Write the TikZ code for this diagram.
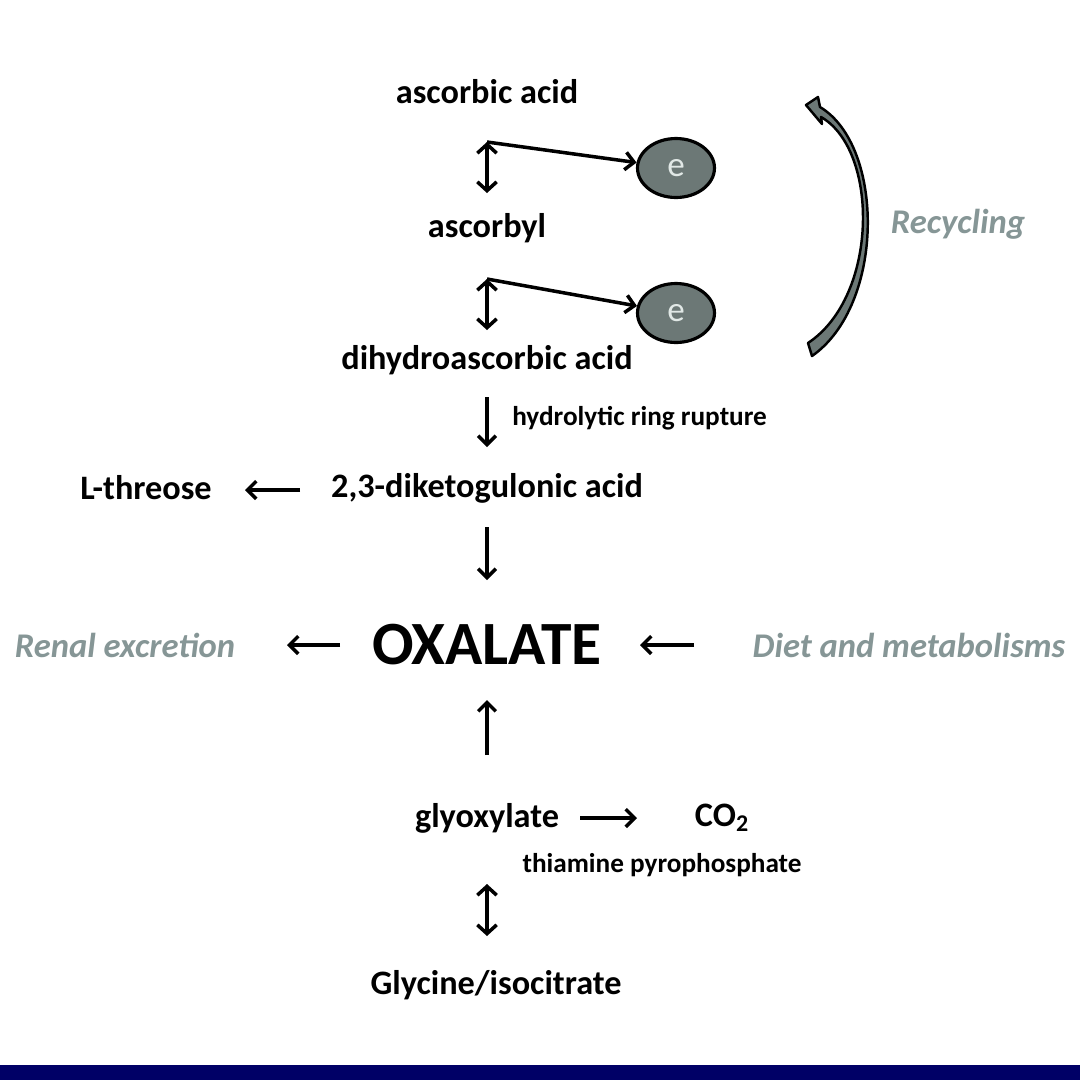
\documentclass[tikz,border=0pt]{standalone}
\usepackage{fontspec}
\setmainfont{Carlito}
\usetikzlibrary{arrows.meta,shapes.geometric}
\definecolor{navy}{RGB}{0,0,102}
\definecolor{softgray}{RGB}{134,150,150}
\definecolor{egray}{RGB}{108,120,118}
\definecolor{elight}{RGB}{225,232,230}
\tikzset{
  x=0.02cm, y=-0.02cm,
  lbl/.style={font=\fontsize{19.5}{22}\selectfont\bfseries, inner sep=0pt},
  small/.style={font=\fontsize{15.5}{18}\selectfont\bfseries, inner sep=0pt},
  side/.style={font=\fontsize{19.7}{22}\selectfont\bfseries\itshape, text=softgray, inner sep=0pt},
  big/.style={font=\fontsize{35}{38}\selectfont\bfseries, inner sep=0pt},
  conn/.style={line width=2pt, -{Straight Barb[length=5pt,width=10pt,line width=2pt]}},
  dbl/.style={line width=2pt, {Straight Barb[length=5pt,width=11pt,line width=2pt]}-{Straight Barb[length=5pt,width=11pt,line width=2pt]}},
  ebox/.style={ellipse, draw=black, line width=1.8pt, fill=egray, minimum width=15.4mm, minimum height=11.8mm, inner sep=0pt, text=elight, font=\fontsize{20}{22}\selectfont},
}
\begin{document}
\begin{tikzpicture}
\useasboundingbox (0,0) rectangle (1080,1080);
\fill[white] (0,0) rectangle (1080,1080);
\fill[navy] (0,1065) rectangle (1080,1080);

% nodes
\node[lbl] (asc) at (487,92) {ascorbic acid};
\node[lbl] (ascyl) at (487,228) {ascorbyl};
\node[lbl] (dha) at (487,360) {dihydroascorbic acid};
\node[small, anchor=west] (hrr) at (512,418) {hydrolytic ring rupture};
\node[lbl] (dkg) at (487,488) {2,3-diketogulonic acid};
\node[lbl] (thr) at (146,488) {L-threose};
\node[big] (ox) at (487,645) {OXALATE};
\node[side] (renal) at (125,645) {Renal excretion};
\node[side] (diet) at (909,645) {Diet and metabolisms};
\node[side] (recyc) at (958,224) {Recycling};
\node[lbl] (gly) at (487,818) {glyoxylate};
\node[lbl] (co2) at (722,818) {CO\textsubscript{2}};
\node[small] (tpp) at (662,865) {thiamine pyrophosphate};
\node[lbl] (glyc) at (496,985) {Glycine/isocitrate};

\node[ebox] (e1) at (676,168) {e};
\node[ebox] (e2) at (676,313) {e};

% coordinates
\coordinate (d1t) at (487,142);
\coordinate (d1b) at (487,193);
\coordinate (d2t) at (487,279);
\coordinate (d2b) at (487,330);

% double arrows and electron arrows
\draw[dbl] (d1t) -- (d1b);
\draw[conn] (d1t) -- (e1);
\draw[dbl] (d2t) -- (d2b);
\draw[conn] (d2t) -- (e2);

% main chain
\coordinate (h1) at (487,397);
\coordinate (h2) at (487,447);
\draw[conn] (h1) -- (h2);
\coordinate (lt1) at (300,490);
\coordinate (lt2) at (245,490);
\draw[conn] (lt1) -- (lt2);
\coordinate (k1) at (487,527);
\coordinate (k2) at (487,580);
\draw[conn] (k1) -- (k2);
\coordinate (r1) at (340,645);
\coordinate (r2) at (287,645);
\draw[conn] (r1) -- (r2);
\coordinate (m1) at (694,645);
\coordinate (m2) at (640,645);
\draw[conn] (m1) -- (m2);
\coordinate (u1) at (487,755);
\coordinate (u2) at (487,700);
\draw[conn] (u1) -- (u2);
\coordinate (g1) at (580,818);
\coordinate (g2) at (637,818);
\draw[conn] (g1) -- (g2);
\coordinate (y1) at (487,884);
\coordinate (y2) at (487,936);
\draw[dbl] (y1) -- (y2);

% recycling arrow
\filldraw[fill=egray, draw=black, line width=1.4pt, line join=round]
  (808,343) .. controls (879,296) and (879,150) .. (821,117)
  -- (822,124) -- (806,105) -- (818,97) -- (820,107)
  .. controls (885,146) and (885,305) .. (812,356) -- cycle;
\end{tikzpicture}
\end{document}
